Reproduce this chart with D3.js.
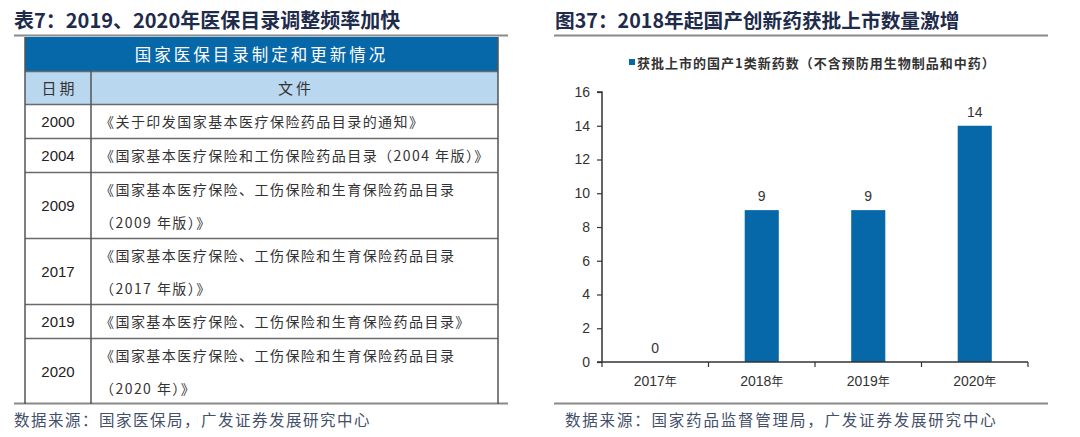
<!DOCTYPE html>
<html><head><meta charset="utf-8">
<script src="https://cdn.jsdelivr.net/npm/d3@7"></script>
<style>
html,body{margin:0;padding:0;background:#fff;}
svg{display:block;}
text{font-family:"Liberation Sans",Arial,"Noto Sans CJK SC",sans-serif;}
</style></head>
<body>
<svg id="c" width="1080" height="437"></svg>
<script>
// ---- data ----
const leftTitle = "表7：2019、2020年医保目录调整频率加快";
const rightTitle = "图37：2018年起国产创新药获批上市数量激增";
const leftSource = "数据来源：国家医保局，广发证券发展研究中心";
const rightSource = "数据来源：国家药品监督管理局，广发证券发展研究中心";
const tableTitle = "国家医保目录制定和更新情况";
const tableHeaders = ["日期", "文件"];
const tableYears = ["2000", "2004", "2009", "2017", "2019", "2020"];
const tableDocs = [
  ["《关于印发国家基本医疗保险药品目录的通知》"],
  ["《国家基本医疗保险和工伤保险药品目录（2004 年版）》"],
  ["《国家基本医疗保险、工伤保险和生育保险药品目录", "（2009 年版）》"],
  ["《国家基本医疗保险、工伤保险和生育保险药品目录", "（2017 年版）》"],
  ["《国家基本医疗保险、工伤保险和生育保险药品目录》"],
  ["《国家基本医疗保险、工伤保险和生育保险药品目录", "（2020 年）》"]
];
const categories = ["2017年", "2018年", "2019年", "2020年"];
const values = [0, 9, 9, 14];
const seriesName = "获批上市的国产1类新药数（不含预防用生物制品和中药）";
const yTicks = [0, 2, 4, 6, 8, 10, 12, 14, 16];

// ---- drawing ----
const svg = d3.select("#c");
const cjk = '"Noto Sans CJK SC","Liberation Sans",sans-serif';
const titleColor = "#1e2b4b";
const blue = "#0668a8";

// titles
svg.append("text").attr("x", 14).attr("y", 28).text(leftTitle)
  .style("font-family", cjk).style("font-size", "20px").style("font-weight", "bold").attr("fill", titleColor);
svg.append("text").attr("x", 555).attr("y", 28).text(rightTitle)
  .style("font-family", cjk).style("font-size", "19.7px").style("font-weight", "bold").attr("fill", titleColor);

// rules
[[14, 508], [554, 1048]].forEach(([a, b]) => {
  svg.append("line").attr("x1", a).attr("x2", b).attr("y1", 35.5).attr("y2", 35.5).attr("stroke", "#8a8a8a").attr("stroke-width", 2);
  svg.append("line").attr("x1", a).attr("x2", b).attr("y1", 403.5).attr("y2", 403.5).attr("stroke", "#8a8a8a").attr("stroke-width", 2);
});

// sources
svg.append("text").attr("x", 14).attr("y", 426).text(leftSource)
  .style("font-family", cjk).style("font-size", "15.5px").style("letter-spacing", "1.5px").attr("fill", "#44506a");
svg.append("text").attr("x", 565).attr("y", 426).text(rightSource)
  .style("font-family", cjk).style("font-size", "15.5px").style("letter-spacing", "1.8px").attr("fill", "#44506a");

// ---- table ----
const tL = 25, tR = 498, tDiv = 91;
const tTop = 37, hdr1 = 71, hdr2 = 104;
const lineH = 33, baseH = 34;
const tg = svg.append("g");
tg.append("rect").attr("x", tL).attr("y", tTop).attr("width", tR - tL).attr("height", hdr1 - tTop).attr("fill", blue);
tg.append("rect").attr("x", tL).attr("y", hdr1).attr("width", tR - tL).attr("height", hdr2 - hdr1).attr("fill", "#b9d8f0");
tg.append("text").attr("x", (tL + tR) / 2).attr("y", (tTop + hdr1) / 2).attr("text-anchor", "middle").attr("dominant-baseline", "central")
  .text(tableTitle).style("font-family", cjk).style("font-size", "16.5px").style("letter-spacing", "3px").attr("fill", "#fff");
tg.append("text").attr("x", (tL + tDiv) / 2 + 1.5).attr("y", (hdr1 + hdr2) / 2).attr("text-anchor", "middle").attr("dominant-baseline", "central")
  .text(tableHeaders[0]).style("font-family", cjk).style("font-size", "15px").style("letter-spacing", "3px").attr("fill", "#333");
tg.append("text").attr("x", (tDiv + tR) / 2 + 1.5).attr("y", (hdr1 + hdr2) / 2).attr("text-anchor", "middle").attr("dominant-baseline", "central")
  .text(tableHeaders[1]).style("font-family", cjk).style("font-size", "15px").style("letter-spacing", "3px").attr("fill", "#333");

let yCur = hdr2;
const rows = tableYears.map((yr, i) => {
  const h = baseH + (tableDocs[i].length - 1) * (lineH - 1);
  const r = { yr, lines: tableDocs[i], top: yCur, h };
  yCur += h;
  return r;
});
const tBottom = yCur;
const rg = tg.selectAll("g.row").data(rows).join("g").attr("class", "row");
rg.append("text").attr("x", (tL + tDiv) / 2).attr("y", d => d.top + d.h / 2).attr("text-anchor", "middle").attr("dominant-baseline", "central")
  .text(d => d.yr).style("font-size", "15px").attr("fill", "#222");
rg.each(function (d) {
  d3.select(this).selectAll("text.doc").data(d.lines).join("text").attr("class", "doc")
    .attr("x", 100).attr("y", (l, j) => d.top + 17 + j * lineH).attr("dominant-baseline", "central")
    .text(l => l).style("font-family", cjk).style("font-size", "14px").style("letter-spacing", "1.45px").attr("fill", "#333");
});
// horizontal lines
const hLines = [hdr1, hdr2].concat(rows.slice(1).map(r => r.top));
tg.selectAll("line.h").data(hLines).join("line").attr("class", "h")
  .attr("x1", tL).attr("x2", tR).attr("y1", d => d + 0.5).attr("y2", d => d + 0.5).attr("stroke", "#6a6a6a").attr("stroke-width", 1.5);
// vertical lines
tg.append("line").attr("x1", tL).attr("x2", tL).attr("y1", tTop).attr("y2", tBottom).attr("stroke", "#555").attr("stroke-width", 1.5);
tg.append("line").attr("x1", tR).attr("x2", tR).attr("y1", tTop).attr("y2", tBottom).attr("stroke", "#555").attr("stroke-width", 1.5);
tg.append("line").attr("x1", tDiv).attr("x2", tDiv).attr("y1", hdr1).attr("y2", tBottom).attr("stroke", "#555").attr("stroke-width", 1.5);

// ---- bar chart ----
const x0 = 602, x1 = 1028, yBase = 362, yTop = 92;
const x = d3.scaleBand().domain(categories).range([x0, x1]).paddingInner(0.68).paddingOuter(0.34);
const y = d3.scaleLinear().domain([0, 16]).range([yBase, yTop]);
const cg = svg.append("g");

cg.selectAll("rect.bar").data(values).join("rect").attr("class", "bar")
  .attr("x", (d, i) => x(categories[i])).attr("width", x.bandwidth())
  .attr("y", d => y(d)).attr("height", d => yBase - y(d)).attr("fill", blue);

cg.selectAll("text.val").data(values).join("text").attr("class", "val")
  .attr("x", (d, i) => x(categories[i]) + x.bandwidth() / 2).attr("y", d => y(d) - 9)
  .attr("text-anchor", "middle").text(d => d).style("font-size", "14px").attr("fill", "#333");

// y axis
const yAxis = d3.axisLeft(y).tickValues(yTicks).tickSize(5).tickPadding(7);
const ya = cg.append("g").attr("transform", `translate(${x0},0)`).call(yAxis);
ya.select(".domain").attr("stroke", "#333").attr("stroke-width", 1.5).attr("d", `M-5,${yTop}H0V${yBase}`);
ya.selectAll(".tick line").attr("stroke", "#333").attr("stroke-width", 1.2);
ya.selectAll(".tick text").style("font-size", "14px").style("font-family", '"Liberation Sans",Arial,sans-serif').attr("fill", "#333");

// x axis with ticks at band boundaries
const xAxisLine = cg.append("g");
xAxisLine.append("line").attr("x1", x0 - 5).attr("x2", x1).attr("y1", yBase).attr("y2", yBase).attr("stroke", "#333").attr("stroke-width", 1.5);
const bounds = categories.map(c => x(c) - x.step() * x.paddingOuter()).concat([x1]);
xAxisLine.selectAll("line.t").data(bounds).join("line").attr("class", "t")
  .attr("x1", d => d).attr("x2", d => d).attr("y1", yBase).attr("y2", yBase + 5).attr("stroke", "#333").attr("stroke-width", 1.2);
xAxisLine.selectAll("text.xl").data(categories).join("text").attr("class", "xl")
  .attr("x", c => x(c) + x.bandwidth() / 2).attr("y", 386).attr("text-anchor", "middle")
  .style("font-size", "14px").attr("fill", "#333")
  .each(function (c) {
    const m = c.match(/^(\d+)(.*)$/);
    d3.select(this).append("tspan").text(m[1]);
    d3.select(this).append("tspan").text(m[2]).style("font-family", cjk).style("font-size", "12px");
  });

// legend
cg.append("rect").attr("x", 629).attr("y", 59).attr("width", 6).attr("height", 6).attr("fill", blue);
cg.append("text").attr("x", 637).attr("y", 62).attr("dominant-baseline", "central").text(seriesName)
  .style("font-family", cjk).style("font-size", "13px").style("font-weight", "bold").style("letter-spacing", "1px").attr("fill", "#333");
</script>
</body></html>
